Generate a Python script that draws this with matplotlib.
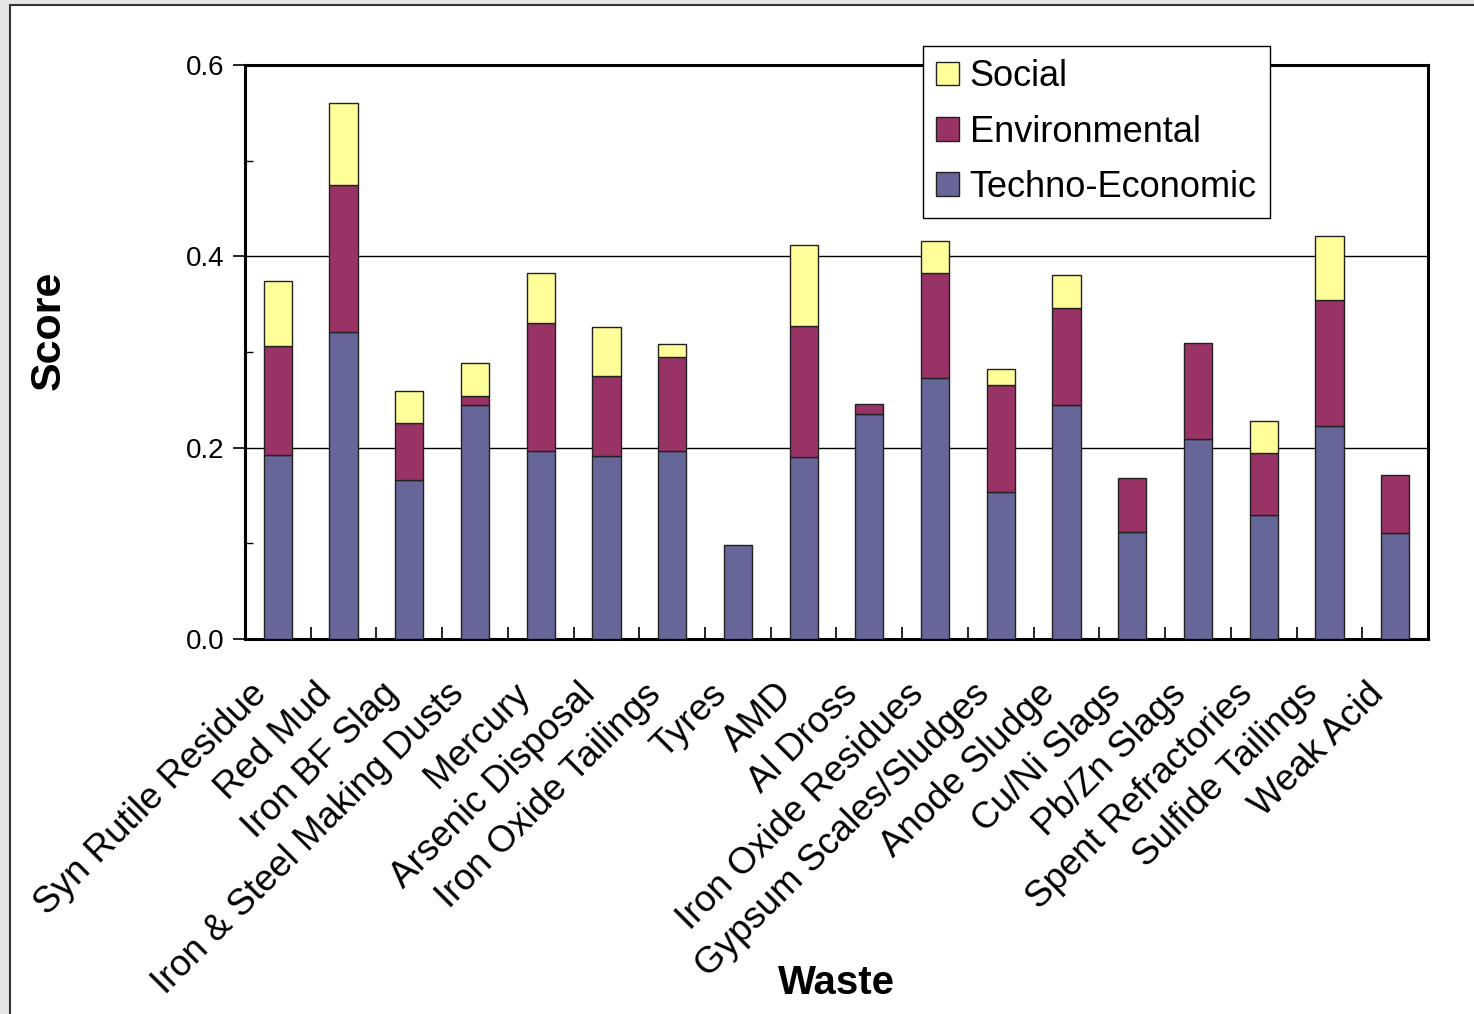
import matplotlib.pyplot as plt
import numpy as np
from matplotlib.patches import Rectangle
from matplotlib.ticker import MultipleLocator
from matplotlib.transforms import ScaledTranslation

plt.rcParams["font.family"] = ["Liberation Sans", "DejaVu Sans"]

wastes = [
    "Syn Rutile Residue", "Red Mud", "Iron BF Slag", "Iron & Steel Making Dusts",
    "Mercury", "Arsenic Disposal", "Iron Oxide Tailings", "Tyres", "AMD",
    "Al Dross", "Iron Oxide Residues", "Gypsum Scales/Sludges", "Anode Sludge",
    "Cu/Ni Slags", "Pb/Zn Slags", "Spent Refractories", "Sulfide Tailings",
    "Weak Acid",
]
techno_economic = [0.192, 0.321, 0.166, 0.245, 0.196, 0.191, 0.197, 0.098, 0.190,
                   0.235, 0.273, 0.154, 0.245, 0.112, 0.209, 0.130, 0.223, 0.111]
environmental = [0.114, 0.154, 0.060, 0.009, 0.134, 0.084, 0.098, 0.0, 0.137,
                 0.011, 0.110, 0.111, 0.101, 0.056, 0.100, 0.064, 0.131, 0.060]
social = [0.068, 0.085, 0.033, 0.034, 0.053, 0.051, 0.013, 0.0, 0.085,
          0.0, 0.033, 0.017, 0.034, 0.0, 0.0, 0.034, 0.067, 0.0]

fig = plt.figure(figsize=(14.74, 10.14), dpi=100)

# outer frame like the original screenshot
fig.patch.set_facecolor("#e6e6e6")
fig.add_artist(Rectangle((10 / 1474, -0.01), 1.1, (1014 - 5) / 1014 + 0.01,
                         transform=fig.transFigure, facecolor="white",
                         edgecolor="#333333", linewidth=1.5, zorder=0))

ax = fig.add_axes([245 / 1474, 375 / 1014, 1183 / 1474, 574 / 1014])
x = np.arange(len(wastes))
w = 0.43
te = np.array(techno_economic)
env = np.array(environmental)
soc = np.array(social)

kw = dict(width=w, edgecolor="#222222", linewidth=1.0, zorder=3)
b1 = ax.bar(x, te, color="#666699", label="Techno-Economic", **kw)
mask_e = env > 0
b2 = ax.bar(x[mask_e], env[mask_e], bottom=te[mask_e], color="#993366",
            label="Environmental", **kw)
mask_s = soc > 0
b3 = ax.bar(x[mask_s], soc[mask_s], bottom=(te + env)[mask_s], color="#FFFF99",
            label="Social", **kw)

ax.set_xlim(-0.5, len(wastes) - 0.5)
ax.set_ylim(0, 0.6)
ax.set_yticks([0.0, 0.2, 0.4, 0.6])
ax.set_yticklabels(["0.0", "0.2", "0.4", "0.6"], fontsize=20)
ax.yaxis.set_minor_locator(MultipleLocator(0.1))
ax.tick_params(axis="y", which="major", direction="out", length=9, width=1.2, pad=6)
ax.tick_params(axis="y", which="minor", direction="in", length=6, width=1.0)
ax.grid(axis="y", color="black", linewidth=1.0, zorder=1)

ax.set_xticks(x)
ax.set_xticklabels(wastes, rotation=45, ha="right", va="top",
                   rotation_mode="anchor", fontsize=26.5)
ax.set_xticks(np.arange(-0.5, len(wastes)), minor=True)
ax.tick_params(axis="x", which="both", direction="in", length=9, width=1.2, pad=27)
shift = ScaledTranslation(-29 / 100, 0, fig.dpi_scale_trans)
for lab in ax.get_xticklabels():
    lab.set_transform(lab.get_transform() + shift)

for s in ax.spines.values():
    s.set_linewidth(2.2)
ax.spines["top"].set_zorder(4)

ax.set_ylabel("Score", fontsize=31, fontweight="bold")
ax.yaxis.set_label_coords((69 - 245) / 1183, (639 - 330) / 574)
ax.text(0.5, -0.6, "Waste", transform=ax.transAxes, ha="center", va="center",
        fontsize=29, fontweight="bold")

leg = ax.legend(handles=[b3, b2, b1], loc="upper left",
                bbox_to_anchor=(923 / 1474, (1014 - 46) / 1014),
                bbox_transform=fig.transFigure, fontsize=26, frameon=True,
                fancybox=False, framealpha=1, edgecolor="black",
                handlelength=0.62, handleheight=0.62, handletextpad=0.3,
                labelspacing=0.56, borderpad=0.37, borderaxespad=0)
leg.get_frame().set_linewidth(1.0)
leg.set_zorder(10)

fig.savefig("out.png", dpi=100, facecolor=fig.get_facecolor())
